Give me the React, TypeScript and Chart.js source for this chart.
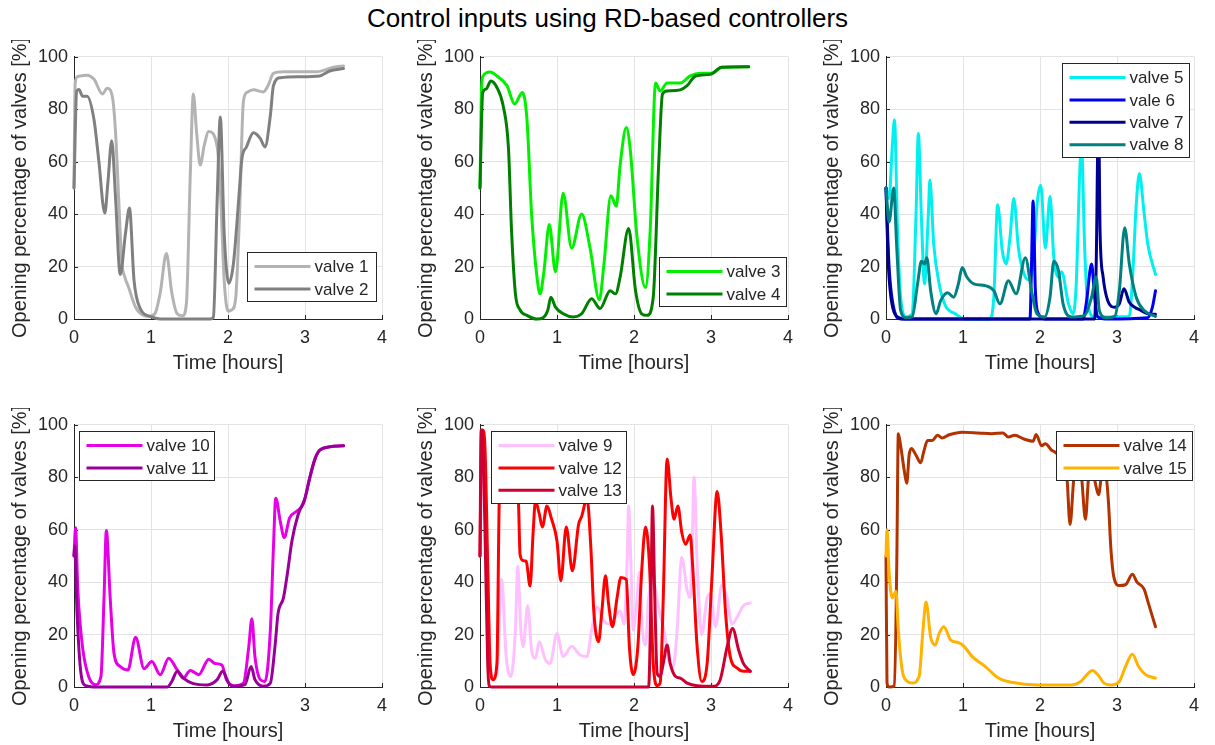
import React, { useEffect, useRef } from "react";
import { Chart, registerables } from "chart.js";

Chart.register(...registerables);

type Pt = [number, number];

// ---------- data (time [hours], opening [%]) ----------
const xTickValues = [0, 1, 2, 3, 4];
const yTickValues = [0, 20, 40, 60, 80, 100];

const valve1: Pt[] = [[0,50],[0.015,90],[0.05,92.5],[0.17,93],[0.26,91.4],[0.37,85.8],[0.43,88],[0.5,84.5],[0.54,71],[0.58,46],[0.62,22],[0.66,16],[0.71,12],[0.8,4.5],[0.9,1.4],[0.97,1],[1.05,2],[1.12,10],[1.2,25],[1.27,10],[1.34,2],[1.41,1.2],[1.46,6],[1.51,55],[1.55,85.8],[1.59,72],[1.64,58.7],[1.69,66],[1.75,71.5],[1.86,65.6],[1.9,50],[1.95,15],[2.0,3],[2.05,3.5],[2.1,8],[2.15,40],[2.2,83],[2.25,86.5],[2.33,87.4],[2.46,86.6],[2.52,89],[2.59,93.7],[2.72,94.3],[3.15,94.3],[3.37,96],[3.5,96.5]];
const valve2: Pt[] = [[0,50],[0.035,87],[0.065,87.5],[0.11,85],[0.17,85],[0.26,76],[0.32,61],[0.4,40.4],[0.44,52],[0.49,68],[0.54,46],[0.6,17],[0.67,33],[0.72,42.3],[0.78,14.6],[0.86,4],[0.99,1],[1.12,0],[1.77,0],[1.81,0.7],[1.86,46],[1.9,77],[1.95,33],[2.01,13.6],[2.07,21],[2.14,46],[2.18,61],[2.24,65.6],[2.33,71],[2.42,68.8],[2.48,65.6],[2.55,77.6],[2.59,89],[2.68,92],[2.93,92.4],[3.19,92.7],[3.32,94.6],[3.5,95.5]];
const valve3: Pt[] = [[0,50],[0.02,88],[0.04,92.7],[0.13,94.2],[0.22,92.7],[0.35,89],[0.45,82],[0.55,86.4],[0.61,76],[0.67,40],[0.74,16],[0.78,9.6],[0.83,18],[0.9,36],[0.98,18],[1.08,48],[1.19,27],[1.32,40],[1.43,27],[1.55,7.3],[1.61,21],[1.7,47],[1.77,43],[1.82,58.7],[1.9,73],[1.95,65],[2.04,31],[2.15,12],[2.21,33.5],[2.28,90],[2.34,87],[2.43,90],[2.6,90],[2.73,92.7],[2.86,93.7],[3.01,93.7],[3.14,96],[3.49,96.2]];
const valve4: Pt[] = [[0,50],[0.035,86.4],[0.08,87.7],[0.14,90.8],[0.22,88.3],[0.3,81.4],[0.37,65],[0.41,33.5],[0.46,9.6],[0.52,3.5],[0.61,1.4],[0.74,0],[0.82,0.5],[0.88,3.3],[0.92,8.3],[0.98,4.5],[1.08,2],[1.21,0.8],[1.32,2],[1.45,7.7],[1.56,4],[1.69,10.8],[1.76,9.6],[1.82,16],[1.93,34.5],[2.02,10.8],[2.1,2],[2.17,1.4],[2.25,8.3],[2.32,58.7],[2.37,85.8],[2.43,87],[2.6,87.4],[2.69,89],[2.8,92.7],[2.99,93.3],[3.14,96],[3.49,96.2]];
const valve5: Pt[] = [[0,50],[0.04,46],[0.08,65],[0.11,76],[0.15,33.5],[0.19,8.3],[0.26,0.8],[0.34,2],[0.39,40],[0.42,70.7],[0.46,38.5],[0.5,13.4],[0.55,40],[0.57,53],[0.62,28.5],[0.69,13.4],[0.77,5.2],[0.9,2],[1.03,0],[1.35,0],[1.4,8.3],[1.45,43.6],[1.51,26],[1.56,21],[1.61,31],[1.66,46],[1.72,27],[1.81,16],[1.86,15],[1.91,21],[1.97,46],[2.01,51],[2.07,27],[2.13,46.7],[2.18,23.4],[2.24,16],[2.28,18],[2.37,5.8],[2.43,2],[2.47,13],[2.52,58.7],[2.54,65],[2.58,27],[2.62,5.8],[2.71,0.8],[3.16,1],[3.2,14.6],[3.25,43.6],[3.29,55.5],[3.35,41],[3.4,28.5],[3.5,17]];
const valve6: Pt[] = [[0,50],[0.04,20],[0.11,3],[0.19,0],[1.87,0],[1.89,21],[1.91,45],[1.94,10.8],[1.98,2],[2.06,0],[2.56,0],[2.6,5.8],[2.67,21],[2.71,8.3],[2.75,0.8],[2.85,0],[3.4,0.5],[3.46,4.5],[3.5,10.8]];
const valve7: Pt[] = [[0,50],[0.03,21],[0.09,4],[0.17,0.5],[0.25,0],[2.71,0],[2.73,21],[2.76,80],[2.78,33.5],[2.82,16],[2.88,7],[2.97,4.5],[3.03,5.8],[3.09,11.5],[3.16,6.4],[3.23,4.5],[3.31,3.3],[3.4,2],[3.5,1.8]];
const valve8: Pt[] = [[0,50],[0.04,37],[0.1,50],[0.14,27],[0.19,3.3],[0.26,0.5],[0.34,0.8],[0.41,13.4],[0.46,22],[0.5,21],[0.53,23.4],[0.58,10.8],[0.65,2],[0.71,7],[0.8,10],[0.88,8.3],[0.94,13.4],[0.99,19.6],[1.05,16],[1.14,13.4],[1.29,12.7],[1.4,10.8],[1.48,5.8],[1.59,14.6],[1.69,9.6],[1.81,23.4],[1.89,10.8],[1.96,2],[2.06,0.8],[2.13,8.3],[2.18,22],[2.24,18.4],[2.3,5.8],[2.41,0.8],[2.58,1.4],[2.67,8.3],[2.73,16],[2.77,3.3],[2.86,0.5],[2.97,1],[3.03,10.8],[3.1,34.8],[3.16,21],[3.25,8.3],[3.35,3.3],[3.5,1]];
const valve9: Pt[] = [[0,50],[0.03,90],[0.08,60],[0.15,4],[0.22,5.3],[0.28,41],[0.34,11.6],[0.4,4],[0.46,21.7],[0.49,46],[0.53,21.7],[0.56,15.4],[0.62,31],[0.67,14],[0.72,11],[0.77,17.3],[0.85,10.3],[0.91,9],[1.0,20.4],[1.08,11.6],[1.19,15.4],[1.3,12.2],[1.39,11.6],[1.45,21.7],[1.52,30.5],[1.6,25.4],[1.69,24],[1.82,29],[1.87,24],[1.91,47],[1.93,69],[1.96,47],[1.99,21.7],[2.04,34],[2.07,43.7],[2.11,21.7],[2.15,16],[2.19,34],[2.25,40],[2.32,30],[2.4,20],[2.45,10],[2.51,7.8],[2.56,21.7],[2.62,49.4],[2.69,36.8],[2.73,34],[2.76,59],[2.78,80],[2.82,47],[2.88,20],[2.95,34],[2.99,35.5],[3.06,23],[3.14,39],[3.21,34],[3.27,24],[3.34,26.7],[3.42,31],[3.51,32]];
const valve10: Pt[] = [[0,50],[0.02,60.7],[0.05,36.8],[0.11,15.4],[0.19,4],[0.28,0.9],[0.35,4],[0.39,34],[0.42,59.7],[0.47,34],[0.52,12.8],[0.6,7.8],[0.7,6.5],[0.8,19],[0.91,7],[1.01,9.7],[1.12,4.7],[1.23,11],[1.34,6.5],[1.42,3.4],[1.51,6.3],[1.62,4.7],[1.75,10.6],[1.83,9],[1.92,8.4],[1.98,2.8],[2.07,0.5],[2.2,1.5],[2.27,15.4],[2.31,26],[2.35,11.6],[2.42,2.8],[2.48,2.1],[2.55,21.7],[2.59,53],[2.62,72],[2.68,63],[2.73,57],[2.8,64.5],[2.89,67],[2.98,70],[3.06,79.6],[3.13,87],[3.19,90.3],[3.32,91.6],[3.5,92]];
const valve11: Pt[] = [[0,50],[0.01,53.8],[0.04,28],[0.09,5.3],[0.15,0.5],[0.25,0],[1.21,0],[1.27,2.1],[1.34,6],[1.42,3.4],[1.55,1.3],[1.73,0.8],[1.86,2.8],[1.93,6],[2.01,1.5],[2.07,0.3],[2.22,0.9],[2.3,7.8],[2.35,2.8],[2.46,0.3],[2.55,1.5],[2.61,15.4],[2.65,28],[2.72,34],[2.77,43],[2.83,55.7],[2.91,65.7],[3.0,72],[3.06,79.6],[3.13,87],[3.19,90.3],[3.32,91.6],[3.5,92]];
const valve12: Pt[] = [[0,50],[0.02,97],[0.035,98],[0.065,91],[0.1,47],[0.13,9],[0.17,2.8],[0.22,9],[0.25,72],[0.3,93],[0.38,86],[0.45,80],[0.5,70],[0.52,50.6],[0.56,48.2],[0.6,48],[0.65,38.5],[0.69,59],[0.72,70.8],[0.77,66],[0.81,61],[0.87,69],[0.93,64],[1.0,55.7],[1.05,40.5],[1.12,61],[1.2,44.3],[1.28,62],[1.32,65],[1.39,72],[1.44,53],[1.48,28],[1.54,17.3],[1.58,28],[1.63,42.4],[1.67,31.7],[1.72,23],[1.78,34],[1.83,41.8],[1.9,41],[1.94,15.4],[1.99,4.7],[2.05,15.4],[2.1,44.3],[2.15,61],[2.2,47],[2.25,9],[2.3,0.5],[2.34,1.5],[2.38,34],[2.43,87],[2.48,72],[2.52,64],[2.57,69],[2.62,59],[2.67,54.4],[2.73,58],[2.76,47],[2.82,15.4],[2.88,2.1],[2.95,9],[3.01,40.5],[3.08,74.6],[3.13,59],[3.19,28],[3.25,11.6],[3.34,7.2],[3.42,6],[3.51,6]];
const valve13: Pt[] = [[0,50],[0.015,98],[0.04,91],[0.065,59],[0.1,9],[0.12,0.5],[0.15,0],[2.19,0],[2.22,34],[2.24,69],[2.27,34],[2.3,5.3],[2.34,4],[2.38,9],[2.43,16],[2.47,9],[2.54,4],[2.6,3.4],[2.69,1.5],[2.82,0.5],[3.03,0.3],[3.12,2.8],[3.21,15.4],[3.28,22.3],[3.36,14],[3.42,9],[3.51,6]];
const valve14: Pt[] = [[0,50],[0.013,1.5],[0.04,0],[0.11,0.3],[0.14,47],[0.16,96.6],[0.19,92],[0.24,82],[0.27,77.7],[0.3,88.4],[0.33,91],[0.39,88.4],[0.45,85.5],[0.49,89.7],[0.54,94],[0.6,94],[0.67,96],[0.73,95],[0.82,96.2],[0.99,97.2],[1.2,96.9],[1.37,96.6],[1.52,96.9],[1.59,95.3],[1.67,96],[1.8,94.5],[1.91,93.7],[1.95,96.3],[2.02,92],[2.07,92.8],[2.15,90.3],[2.19,89.7],[2.25,88],[2.3,86],[2.35,80],[2.39,62],[2.44,80],[2.49,88],[2.54,80],[2.59,64],[2.64,82],[2.7,80],[2.76,73.3],[2.81,82],[2.86,80],[2.89,70],[2.92,53],[2.96,41.8],[3.03,38.7],[3.11,39],[3.2,43],[3.26,40],[3.35,37.4],[3.41,31.7],[3.5,23]];
const valve15: Pt[] = [[0,50],[0.013,60],[0.04,44],[0.08,34],[0.11,35.5],[0.13,36.5],[0.16,21.7],[0.21,6.5],[0.28,2.1],[0.34,1.5],[0.43,4],[0.48,21.7],[0.52,32.4],[0.58,19],[0.64,16],[0.69,20.4],[0.75,23],[0.84,17.9],[0.94,16.9],[1.01,15.6],[1.12,11.6],[1.29,7.8],[1.46,3.4],[1.63,1.8],[1.97,0.8],[2.4,0.8],[2.53,2.1],[2.61,4.7],[2.68,6.3],[2.75,4.7],[2.83,1.5],[2.92,0.8],[3.03,2.1],[3.11,7.8],[3.2,12.5],[3.28,7.8],[3.37,4.7],[3.5,3.4]];

// ---------- styling / layout ----------
const FONT = '"Liberation Sans", Arial, Helvetica, sans-serif';
const INK = "#262626";
const GRID = "#e3e3e3";
const PLOT_W = 308;
const PLOT_H = 266;
const AXIS_L = 74;
const PAD_T = 13;
const PAD_R = 14;
const AXIS_B = 58;
const CW = AXIS_L + PLOT_W + PAD_R;
const CH = PAD_T + PLOT_H + AXIS_B;

interface Series { label: string; data: Pt[]; color: string }
interface Panel { left: number; top: number; series: Series[]; legend: { x: number; y: number; w: number } }

const panels: Panel[] = [
  { left: 74, top: 53, legend: { x: 173, y: 195, w: 129 }, series: [
    { label: "valve 1", data: valve1, color: "#b3b3b3" },
    { label: "valve 2", data: valve2, color: "#808080" },
  ] },
  { left: 480, top: 53, legend: { x: 179, y: 200, w: 127 }, series: [
    { label: "valve 3", data: valve3, color: "#00f000" },
    { label: "valve 4", data: valve4, color: "#008000" },
  ] },
  { left: 886, top: 53, legend: { x: 176, y: 6, w: 127 }, series: [
    { label: "valve 5", data: valve5, color: "#00f0f0" },
    { label: "vale 6", data: valve6, color: "#0000f0" },
    { label: "valve 7", data: valve7, color: "#000090" },
    { label: "valve 8", data: valve8, color: "#008080" },
  ] },
  { left: 74, top: 421, legend: { x: 5, y: 6, w: 135 }, series: [
    { label: "valve 10", data: valve10, color: "#e600e6" },
    { label: "valve 11", data: valve11, color: "#990099" },
  ] },
  { left: 480, top: 421, legend: { x: 11, y: 6, w: 135 }, series: [
    { label: "valve 9", data: valve9, color: "#ffc0ff" },
    { label: "valve 12", data: valve12, color: "#ff0000" },
    { label: "valve 13", data: valve13, color: "#cc0033" },
  ] },
  { left: 886, top: 421, legend: { x: 170, y: 6, w: 136 }, series: [
    { label: "valve 14", data: valve14, color: "#b33300" },
    { label: "valve 15", data: valve15, color: "#ffb300" },
  ] },
];

function PanelChart({ panel }: { panel: Panel }) {
  const ref = useRef<HTMLCanvasElement | null>(null);
  useEffect(() => {
    if (!ref.current) return;
    const n = panel.series.length;

    const tickPlugin = {
      id: "inwardTicks",
      beforeDatasetsDraw(chart: any) {
        const { ctx, chartArea, scales } = chart;
        ctx.save();
        ctx.strokeStyle = INK;
        ctx.lineWidth = 1;
        ctx.beginPath();
        for (const v of xTickValues) {
          const px = Math.round(scales.x.getPixelForValue(v)) + 0.5;
          ctx.moveTo(px, chartArea.bottom);
          ctx.lineTo(px, chartArea.bottom - 4);
        }
        for (const v of yTickValues) {
          const py = Math.round(scales.y.getPixelForValue(v)) + 0.5;
          ctx.moveTo(chartArea.left, py);
          ctx.lineTo(chartArea.left + 4, py);
        }
        ctx.stroke();
        ctx.restore();
      },
    };

    const legendPlugin = {
      id: "boxLegend",
      afterDraw(chart: any) {
        const { ctx, chartArea } = chart;
        const lg = panel.legend;
        const x0 = Math.round(chartArea.left + lg.x) + 0.5;
        const y0 = Math.round(chartArea.top + lg.y) + 0.5;
        const h = Math.round(14 + (n - 1) * 22.4 + 13);
        ctx.save();
        ctx.fillStyle = "#ffffff";
        ctx.fillRect(x0, y0, lg.w, h);
        ctx.strokeStyle = INK;
        ctx.lineWidth = 1;
        ctx.strokeRect(x0, y0, lg.w, h);
        ctx.font = `17px ${FONT}`;
        ctx.textBaseline = "middle";
        ctx.textAlign = "left";
        panel.series.forEach((s, i) => {
          const cy = y0 + 14 + i * 22.4;
          ctx.strokeStyle = s.color;
          ctx.lineWidth = 3;
          ctx.beginPath();
          ctx.moveTo(x0 + 7, cy);
          ctx.lineTo(x0 + 63, cy);
          ctx.stroke();
          ctx.fillStyle = INK;
          ctx.fillText(s.label, x0 + 67, cy + 1);
        });
        ctx.restore();
      },
    };

    const chart = new Chart(ref.current, {
      type: "line",
      data: {
        datasets: panel.series.map((s, i) => ({
          label: s.label,
          data: s.data.map(([x, y]) => ({ x, y })),
          borderColor: s.color,
          backgroundColor: s.color,
          borderWidth: 3,
          pointRadius: 0,
          pointHoverRadius: 0,
          fill: false,
          cubicInterpolationMode: "monotone" as const,
          borderJoinStyle: "round" as const,
          borderCapStyle: "round" as const,
          clip: 6,
          order: n - i,
        })),
      },
      options: {
        animation: false,
        responsive: false,
        devicePixelRatio: 1,
        events: [],
        layout: { padding: { top: PAD_T, right: PAD_R, left: 0, bottom: 0 } },
        plugins: {
          legend: { display: false },
          tooltip: { enabled: false },
          title: { display: false },
        },
        scales: {
          x: {
            type: "linear",
            min: xTickValues[0],
            max: xTickValues[xTickValues.length - 1],
            afterBuildTicks: (s: any) => { s.ticks = xTickValues.map((v) => ({ value: v })); },
            ticks: { color: INK, font: { family: FONT, size: 18 }, padding: 8, maxRotation: 0, autoSkip: false },
            grid: { color: GRID, drawTicks: false, lineWidth: 1 },
            border: { display: true, color: INK, width: 1 },
            title: { display: true, text: "Time [hours]", color: INK, font: { family: FONT, size: 20 }, padding: { top: 0, bottom: 1.5 } },
            afterFit: (s: any) => { s.height = AXIS_B; },
          },
          y: {
            type: "linear",
            min: yTickValues[0],
            max: yTickValues[yTickValues.length - 1],
            afterBuildTicks: (s: any) => { s.ticks = yTickValues.map((v) => ({ value: v })); },
            ticks: { color: INK, font: { family: FONT, size: 18 }, padding: 6 },
            grid: { color: GRID, drawTicks: false, lineWidth: 1 },
            border: { display: true, color: INK, width: 1 },
            title: { display: true, text: "Opening percentage of valves [%]", color: INK, font: { family: FONT, size: 20 }, padding: { top: 8, bottom: 0 } },
            afterFit: (s: any) => { s.width = AXIS_L; },
          },
        },
      } as any,
      plugins: [tickPlugin, legendPlugin],
    });
    return () => chart.destroy();
  }, [panel]);

  return (
    <canvas
      ref={ref}
      width={CW}
      height={CH}
      style={{ position: "absolute", left: panel.left - AXIS_L, top: panel.top - PAD_T, width: CW, height: CH }}
    />
  );
}

export default function App() {
  return (
    <div style={{ position: "absolute", left: 0, top: 0, width: 1215, height: 745, overflow: "hidden", background: "#ffffff" }}>
      <div style={{ position: "absolute", left: 0, top: 3, width: 1215, textAlign: "center", fontFamily: FONT, fontSize: 26, lineHeight: "30px", color: "#000000" }}>
        Control inputs using RD-based controllers
      </div>
      {panels.map((p, i) => (
        <PanelChart key={i} panel={p} />
      ))}
    </div>
  );
}
